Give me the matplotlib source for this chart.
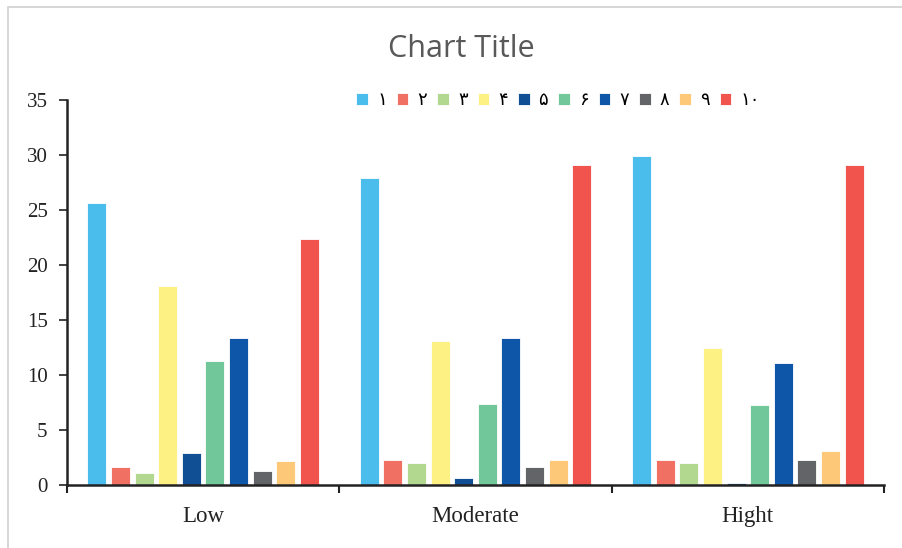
import matplotlib
matplotlib.use("Agg")
import matplotlib.pyplot as plt
import numpy as np
from matplotlib.patches import Rectangle

categories = ["Low", "Moderate", "Hight"]
series_labels = ["۱", "۲", "۳", "۴", "۵", "۶", "۷", "۸", "۹", "۱۰"]
s1 = [25.6, 27.9, 29.9]
s2 = [1.6, 2.3, 2.3]
s3 = [1.1, 2.0, 2.0]
s4 = [18.1, 13.1, 12.5]
s5 = [2.9, 0.6, 0.2]
s6 = [11.3, 7.4, 7.3]
s7 = [13.4, 13.4, 11.1]
s8 = [1.3, 1.6, 2.3]
s9 = [2.2, 2.3, 3.1]
s10 = [22.4, 29.1, 29.1]
series = [s1, s2, s3, s4, s5, s6, s7, s8, s9, s10]
colors = ["#4BBDEC", "#F07063", "#B2D78F", "#FEF183", "#114F94",
          "#71C79A", "#0E56A7", "#636467", "#FDC878", "#F0544D"]
yticks = [0, 5, 10, 15, 20, 25, 30, 35]

W, H = 902, 548
fig = plt.figure(figsize=(W / 100, H / 100), dpi=100)
fig.patch.set_facecolor("white")
# chart area border (partially cut)
fig.add_artist(Rectangle((8 / W, -0.1), 1.2, 1 - 7 / H + 0.1, transform=fig.transFigure,
                         fill=False, edgecolor="#D0D0D0", linewidth=1.2))

ax = fig.add_axes([67 / W, 63 / H, (884 - 67) / W, (485 - 100) / H])
x = np.arange(len(categories))
step = 0.0867
width = 0.0697
handles = []
for j, (vals, c) in enumerate(zip(series, colors)):
    b = ax.bar(x + (j - 4.5) * step, vals, width=width, color=c,
               edgecolor="white", linewidth=0.6, label=series_labels[j], zorder=2)
    handles.append(b)

ax.set_xlim(-0.5, 2.5)
ax.set_ylim(0, 35)
ax.set_yticks(yticks)
ax.set_yticklabels([str(v) for v in yticks], fontfamily="Liberation Serif", fontsize=15, color="#222222")
ax.set_xticks([-0.5, 0.5, 1.5, 2.5])
ax.set_xticklabels([])
ax.set_xticks(x, minor=True)
ax.set_xticklabels(categories, minor=True, fontfamily="Liberation Serif", fontsize=16.5, color="#222222")
ax.tick_params(axis="x", which="minor", length=0, pad=15)
ax.tick_params(axis="x", which="major", length=6, width=1.5, direction="out", color="#222222")
ax.tick_params(axis="y", which="major", length=6, width=1.2, direction="out", pad=8, color="#222222")
for s in ["top", "right"]:
    ax.spines[s].set_visible(False)
for s in ["left", "bottom"]:
    ax.spines[s].set_linewidth(1.8)
    ax.spines[s].set_color("#222222")

fig.text(461 / W, 1 - 49 / H, "Chart Title", ha="center", va="center",
         fontsize=22, color="#595959", fontfamily="Open Sans")

leg = fig.legend(handles=handles, labels=series_labels, ncol=10, frameon=False,
                 loc="center", bbox_to_anchor=(558 / W, 1 - 100 / H),
                 handlelength=0.65, handleheight=0.65, handletextpad=0.5,
                 columnspacing=0.55, prop={"family": ["DejaVu Sans"], "size": 13})

fig.savefig("out.png", dpi=100)
